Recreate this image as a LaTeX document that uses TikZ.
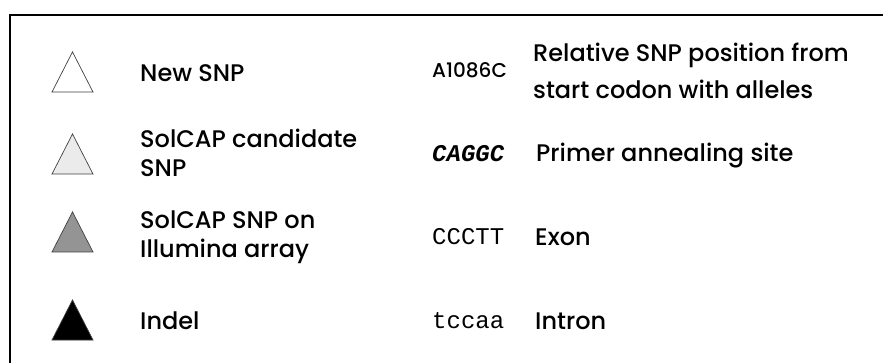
\documentclass[tikz,border=0pt]{standalone}
\usepackage{fontspec}
\setmainfont{Poppins}[UprightFont={* Medium}]
\newfontfamily\codefont{Liberation Mono}
\begin{document}
\begin{tikzpicture}[x=1pt,y=-1pt,
  lbl/.style={anchor=base west, inner sep=0pt, font=\fontsize{24}{29}\selectfont},
  small/.style={anchor=base west, inner sep=0pt, font=\fontsize{20}{20}\selectfont},
  code/.style={anchor=base west, inner sep=0pt, font=\codefont\fontsize{24}{28}\selectfont},
  tri/.style={draw=black!75, line width=0.7pt},
  frame/.style={draw=black, line width=2pt}]
\useasboundingbox (0,0) rectangle (883,363);
\fill[white] (0,0) rectangle (883,363);
% frame
\coordinate (fbl) at (10,363);
\coordinate (ftl) at (10,15);
\coordinate (ftr) at (883,15);
\draw[frame] (fbl) -- (ftl) -- (ftr);
% triangles
\draw[tri, fill=white]   (52,92) -- (72.5,52) -- (93,92) -- cycle;
\draw[tri, fill=black!8] (52,174) -- (72.5,134) -- (93,174) -- cycle;
\draw[tri, fill=black!42] (52,252) -- (72.5,212) -- (93,252) -- cycle;
\draw[tri, fill=black]   (52,340) -- (72.5,300) -- (93,340) -- cycle;
% left labels
\node[lbl] (l1) at (140,82) {New SNP};
\node[lbl] (l2a) at (140,148) {SolCAP candidate};
\node[lbl] (l2b) at (140,177) {SNP};
\node[lbl] (l3a) at (140,229) {SolCAP SNP on};
\node[lbl] (l3b) at (140,258) {Illumina array};
\node[lbl] (l4) at (140,329) {Indel};
% middle codes
\node[small] (c1) at (432,78) {A1086C};
\node[code, font=\codefont\bfseries\itshape\fontsize{24}{28}\selectfont] (c2) at (432,162) {CAGGC};
\node[code] (c3) at (432,245) {CCCTT};
\node[code] (c4) at (432,328) {tccaa};
% right labels
\node[lbl] (r1a) at (533,62) {Relative SNP position from};
\node[lbl] (r1b) at (533,99) {start codon with alleles};
\node[lbl] (r2) at (536,162) {Primer annealing site};
\node[lbl] (r3) at (535,246) {Exon};
\node[lbl] (r4) at (535,329) {Intron};
\end{tikzpicture}
\end{document}
